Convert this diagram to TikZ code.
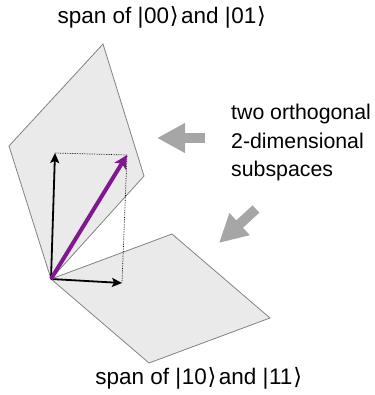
\documentclass[tikz,border=0pt]{standalone}
\usepackage{fontspec}
\setmainfont{Liberation Sans}
\newfontfamily\symfont{DejaVu Sans}
\usepackage{xcolor}
\usetikzlibrary{arrows.meta}
\definecolor{planefill}{RGB}{234, 234, 234}
\definecolor{planeedge}{RGB}{130, 130, 130}
\definecolor{pointer}{RGB}{166, 166, 166}
\definecolor{statevec}{RGB}{130, 24, 145}
\newcommand{\ket}[1]{|\kern0.5pt#1\kern0.8pt{\symfont ⟩}\kern2.5pt}

\begin{document}
\begin{tikzpicture}[
    x=1pt, y=-1pt,
    plane/.style={fill=planefill, draw=planeedge, line width=0.8pt, line join=miter},
    basis/.style={-{Stealth[length=10pt, width=9pt, inset=2pt]}, line width=1.8pt, black},
    state/.style={-{Stealth[length=13pt, width=13pt, inset=3pt]}, line width=4pt, color=statevec},
    proj/.style={densely dotted, line width=0.7pt, black},
    pointer/.style={line width=10pt, color=pointer,
      -{Triangle[length=28pt, width=28pt]}},
    lbl/.style={font=\fontsize{21.3}{28.5}\selectfont, align=left},
    span/.style={font=\fontsize{22.5}{27}\selectfont}
  ]
  \useasboundingbox (0,0) rectangle (374,395);

  % ── Corners of the two planes ──────────────────────────────────
  \coordinate (o)  at (51, 279);
  \coordinate (ul) at (9, 146);
  \coordinate (ut) at (103, 44);
  \coordinate (ur) at (144, 176);
  \coordinate (lt) at (172, 234);
  \coordinate (lr) at (270, 318);
  \coordinate (lb) at (149, 363);

  \draw[plane] (o) -- (lt) -- (lr) -- (lb) -- cycle;
  \draw[plane] (o) -- (ul) -- (ut) -- (ur) -- cycle;

  % ── Vectors ────────────────────────────────────────────────────
  \coordinate (e0) at (55, 153);
  \coordinate (e1) at (122, 283);
  \coordinate (psi) at (127, 155);

  \draw[proj] (e0) -- (psi) -- (e1);
  \draw[basis] (o) -- (e0);
  \draw[basis] (o) -- (e1);
  \draw[state] (o) -- (psi);

  % ── Pointers to the planes ─────────────────────────────────────
  \coordinate (p1s) at (205, 138);
  \coordinate (p1e) at (157, 138);
  \coordinate (p2s) at (256, 209);
  \coordinate (p2e) at (219, 243);
  \draw[pointer] (p1s) -- (p1e);
  \draw[pointer] (p2s) -- (p2e);

  % ── Labels ─────────────────────────────────────────────────────
  \node[span] (top) at (163, 17) {span of \ket{00} and \ket{01}};
  \node[span] (bot) at (200, 378) {span of \ket{10} and \ket{11}};
  \node[lbl, anchor=north west, inner sep=0pt] (note) at (231, 104)
    {two orthogonal\\2-dimensional\\subspaces};

\end{tikzpicture}
\end{document}
